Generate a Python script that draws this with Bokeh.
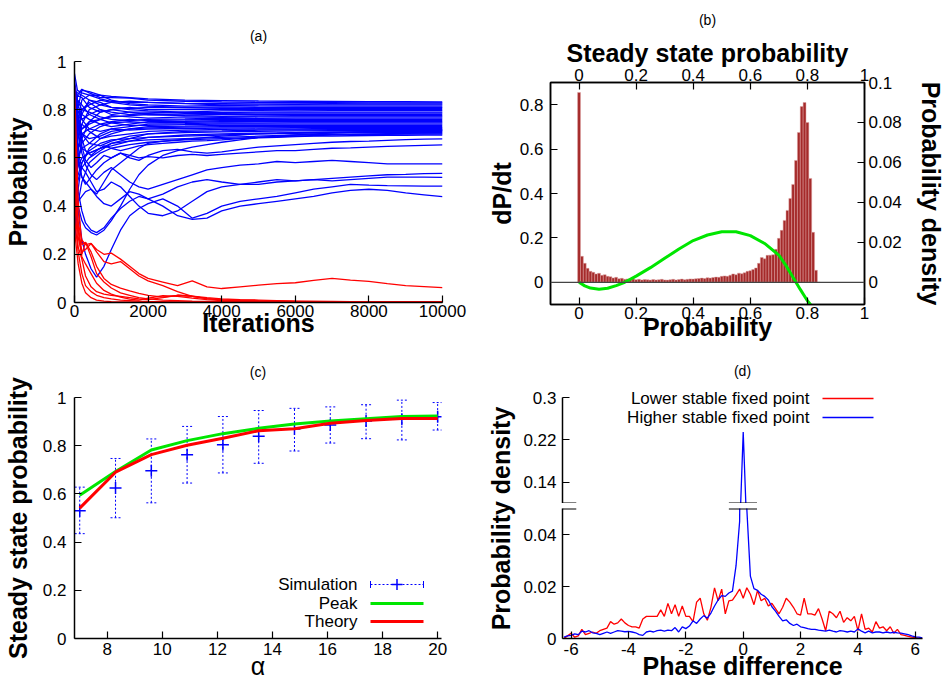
from bokeh.plotting import figure
from bokeh.layouts import row, column
from bokeh.models import (Range1d, LinearAxis, FixedTicker, Span, Label,
                          Whisker, TeeHead, Arrow, ColumnDataSource, CustomJSTickFormatter)
from bokeh.embed import file_html
from bokeh.resources import INLINE

FONT = "Liberation Sans"
BLUE = "#0000ff"
RED = "#ff0000"
GREEN = "#00e600"

# ---------------- (a) trajectories ----------------
iter_fine = [0, 100, 200, 300, 450, 600, 800, 1000, 1250, 1500, 1750, 2000, 2400, 2800, 3200,
             3600, 4000, 4500, 5000, 5500, 6000, 6500, 7000, 7500, 8000, 8500, 9000, 9500, 10000]
iter_coarse = [0, 80, 200, 400, 700, 1000, 1500, 2000, 3000, 4000, 5000, 6000, 7000, 8000, 9000, 10000]

blue_low_traj = [
    [0.62, 0.46, 0.38, 0.33, 0.30, 0.29, 0.31, 0.35, 0.39, 0.42, 0.44, 0.43, 0.40, 0.36, 0.345, 0.35, 0.38, 0.40, 0.41, 0.42, 0.43, 0.44, 0.455, 0.465, 0.47, 0.465, 0.455, 0.447, 0.439],
    [0.58, 0.38, 0.26, 0.20, 0.14, 0.105, 0.15, 0.22, 0.30, 0.36, 0.39, 0.41, 0.43, 0.40, 0.35, 0.37, 0.40, 0.42, 0.43, 0.44, 0.455, 0.47, 0.48, 0.49, 0.487, 0.485, 0.484, 0.483, 0.483],
    [0.72, 0.58, 0.52, 0.50, 0.47, 0.44, 0.41, 0.40, 0.43, 0.46, 0.45, 0.43, 0.45, 0.48, 0.50, 0.51, 0.50, 0.49, 0.49, 0.50, 0.505, 0.51, 0.505, 0.51, 0.515, 0.52, 0.52, 0.52, 0.519],
    [0.80, 0.62, 0.56, 0.54, 0.50, 0.46, 0.47, 0.50, 0.48, 0.44, 0.40, 0.37, 0.36, 0.38, 0.42, 0.46, 0.48, 0.49, 0.50, 0.51, 0.505, 0.51, 0.515, 0.52, 0.525, 0.53, 0.532, 0.535, 0.536],
    [0.85, 0.70, 0.62, 0.57, 0.53, 0.51, 0.54, 0.56, 0.53, 0.50, 0.48, 0.47, 0.49, 0.51, 0.53, 0.55, 0.56, 0.57, 0.575, 0.585, 0.58, 0.585, 0.59, 0.585, 0.58, 0.575, 0.575, 0.575, 0.575],
    [0.88, 0.74, 0.65, 0.59, 0.56, 0.58, 0.61, 0.60, 0.62, 0.61, 0.60, 0.605, 0.60, 0.61, 0.615, 0.61, 0.615, 0.62, 0.625, 0.63, 0.63, 0.635, 0.64, 0.642, 0.645, 0.648, 0.65, 0.652, 0.654],
    [0.75, 0.60, 0.52, 0.49, 0.52, 0.55, 0.58, 0.60, 0.62, 0.60, 0.59, 0.61, 0.63, 0.635, 0.625, 0.62, 0.625, 0.635, 0.645, 0.65, 0.655, 0.66, 0.665, 0.668, 0.67, 0.673, 0.676, 0.678, 0.679],
    [0.86, 0.76, 0.68, 0.63, 0.61, 0.63, 0.65, 0.64, 0.63, 0.64, 0.65, 0.655, 0.66, 0.665, 0.67, 0.672, 0.675, 0.68, 0.683, 0.685, 0.688, 0.69, 0.69, 0.692, 0.693, 0.694, 0.694, 0.695, 0.695],
    [0.40, 0.42, 0.44, 0.46, 0.47, 0.45, 0.50, 0.55, 0.58, 0.61, 0.64, 0.66, 0.67, 0.675, 0.68, 0.685, 0.69, 0.695, 0.70, 0.702, 0.705, 0.706, 0.707, 0.708, 0.709, 0.71, 0.711, 0.712, 0.712],
    [0.52, 0.40, 0.34, 0.31, 0.29, 0.28, 0.30, 0.34, 0.40, 0.47, 0.53, 0.57, 0.61, 0.63, 0.645, 0.655, 0.665, 0.675, 0.685, 0.69, 0.695, 0.70, 0.703, 0.706, 0.708, 0.71, 0.712, 0.714, 0.716],
]

blue_band_traj = [
    [0.95, 0.88, 0.87, 0.86, 0.86, 0.855, 0.85, 0.845, 0.84, 0.838, 0.836, 0.835, 0.834, 0.833, 0.833, 0.832],
    [0.70, 0.86, 0.885, 0.87, 0.85, 0.85, 0.848, 0.84, 0.835, 0.832, 0.83, 0.829, 0.829, 0.828, 0.828, 0.828],
    [0.40, 0.75, 0.84, 0.86, 0.845, 0.835, 0.83, 0.83, 0.826, 0.825, 0.824, 0.824, 0.825, 0.824, 0.824, 0.824],
    [0.88, 0.87, 0.86, 0.84, 0.82, 0.83, 0.835, 0.83, 0.825, 0.82, 0.82, 0.821, 0.82, 0.82, 0.82, 0.82],
    [0.60, 0.80, 0.88, 0.875, 0.86, 0.84, 0.825, 0.82, 0.815, 0.818, 0.816, 0.815, 0.815, 0.815, 0.815, 0.815],
    [0.92, 0.84, 0.80, 0.82, 0.84, 0.83, 0.82, 0.815, 0.81, 0.812, 0.81, 0.81, 0.81, 0.81, 0.81, 0.81],
    [0.35, 0.62, 0.74, 0.80, 0.82, 0.81, 0.805, 0.81, 0.808, 0.806, 0.806, 0.805, 0.806, 0.806, 0.806, 0.806],
    [0.82, 0.86, 0.85, 0.81, 0.79, 0.80, 0.81, 0.80, 0.80, 0.80, 0.80, 0.80, 0.80, 0.80, 0.80, 0.80],
    [0.55, 0.70, 0.78, 0.84, 0.83, 0.81, 0.80, 0.795, 0.79, 0.795, 0.796, 0.795, 0.796, 0.796, 0.796, 0.796],
    [0.90, 0.80, 0.76, 0.78, 0.80, 0.79, 0.78, 0.785, 0.79, 0.788, 0.79, 0.79, 0.79, 0.79, 0.79, 0.79],
    [0.45, 0.66, 0.80, 0.83, 0.80, 0.78, 0.79, 0.79, 0.785, 0.785, 0.786, 0.786, 0.786, 0.786, 0.786, 0.786],
    [0.75, 0.84, 0.82, 0.78, 0.76, 0.77, 0.775, 0.78, 0.778, 0.78, 0.78, 0.78, 0.78, 0.78, 0.78, 0.78],
    [0.30, 0.55, 0.68, 0.75, 0.79, 0.80, 0.79, 0.78, 0.775, 0.772, 0.774, 0.775, 0.775, 0.775, 0.775, 0.775],
    [0.85, 0.78, 0.72, 0.74, 0.76, 0.775, 0.77, 0.765, 0.77, 0.768, 0.77, 0.77, 0.77, 0.77, 0.77, 0.77],
    [0.65, 0.74, 0.80, 0.79, 0.77, 0.76, 0.755, 0.76, 0.762, 0.765, 0.764, 0.765, 0.765, 0.765, 0.765, 0.765],
    [0.50, 0.62, 0.70, 0.72, 0.74, 0.75, 0.76, 0.755, 0.758, 0.76, 0.76, 0.76, 0.76, 0.76, 0.76, 0.76],
    [0.88, 0.82, 0.78, 0.76, 0.74, 0.73, 0.74, 0.75, 0.752, 0.755, 0.755, 0.755, 0.755, 0.755, 0.755, 0.755],
    [0.38, 0.58, 0.66, 0.70, 0.73, 0.745, 0.75, 0.745, 0.748, 0.75, 0.75, 0.75, 0.75, 0.75, 0.75, 0.75],
    [0.72, 0.80, 0.76, 0.72, 0.71, 0.72, 0.73, 0.74, 0.742, 0.745, 0.744, 0.745, 0.745, 0.745, 0.745, 0.745],
    [0.58, 0.68, 0.72, 0.75, 0.76, 0.745, 0.735, 0.735, 0.738, 0.74, 0.74, 0.74, 0.74, 0.74, 0.74, 0.74],
    [0.28, 0.45, 0.58, 0.64, 0.68, 0.70, 0.72, 0.73, 0.732, 0.735, 0.735, 0.735, 0.735, 0.735, 0.735, 0.735],
    [0.80, 0.76, 0.70, 0.68, 0.69, 0.71, 0.72, 0.725, 0.728, 0.73, 0.73, 0.73, 0.73, 0.73, 0.73, 0.73],
    [0.48, 0.60, 0.64, 0.66, 0.70, 0.72, 0.715, 0.72, 0.722, 0.724, 0.725, 0.726, 0.726, 0.726, 0.726, 0.726],
    [0.66, 0.72, 0.74, 0.71, 0.68, 0.69, 0.70, 0.71, 0.715, 0.718, 0.72, 0.72, 0.722, 0.722, 0.722, 0.722],
    [0.33, 0.50, 0.56, 0.60, 0.63, 0.66, 0.68, 0.70, 0.71, 0.712, 0.715, 0.716, 0.717, 0.718, 0.718, 0.718],
    [0.90, 0.78, 0.70, 0.66, 0.65, 0.67, 0.69, 0.70, 0.705, 0.708, 0.71, 0.712, 0.713, 0.714, 0.714, 0.714],
    [0.52, 0.56, 0.60, 0.62, 0.64, 0.65, 0.67, 0.685, 0.695, 0.70, 0.703, 0.705, 0.707, 0.708, 0.709, 0.71],
    [0.42, 0.52, 0.58, 0.63, 0.66, 0.675, 0.68, 0.685, 0.69, 0.695, 0.70, 0.702, 0.704, 0.705, 0.706, 0.706],
    [0.62, 0.66, 0.64, 0.62, 0.64, 0.66, 0.67, 0.675, 0.68, 0.685, 0.69, 0.695, 0.698, 0.70, 0.702, 0.703],
    [0.25, 0.40, 0.50, 0.58, 0.62, 0.64, 0.655, 0.665, 0.675, 0.68, 0.685, 0.69, 0.695, 0.697, 0.699, 0.70],
]

red_traj = [
    [0.45, 0.33, 0.26, 0.24, 0.245, 0.22, 0.20, 0.205, 0.18, 0.15, 0.12, 0.10, 0.085, 0.07, 0.09, 0.065, 0.058, 0.065, 0.072, 0.078, 0.082, 0.092, 0.1, 0.093, 0.088, 0.078, 0.07, 0.066, 0.062],
    [0.60, 0.32, 0.21, 0.22, 0.245, 0.21, 0.17, 0.16, 0.17, 0.14, 0.11, 0.09, 0.07, 0.045, 0.025, 0.016, 0.012, 0.01, 0.008, 0.007, 0.006, 0.005, 0.005, 0.004, 0.004, 0.003, 0.003, 0.003, 0.003],
    [0.90, 0.42, 0.24, 0.25, 0.21, 0.15, 0.10, 0.075, 0.06, 0.048, 0.038, 0.03, 0.022, 0.03, 0.026, 0.016, 0.01, 0.008, 0.006, 0.005, 0.004, 0.003, 0.003, 0.002, 0.002, 0.002, 0.002, 0.002, 0.002],
    [0.50, 0.27, 0.20, 0.25, 0.19, 0.12, 0.085, 0.06, 0.04, 0.03, 0.02, 0.015, 0.01, 0.008, 0.006, 0.005, 0.004, 0.003, 0.003, 0.002, 0.002, 0.002, 0.001, 0.001, 0.001, 0.001, 0.001, 0.001, 0.001],
    [0.35, 0.21, 0.12, 0.07, 0.045, 0.03, 0.02, 0.015, 0.01, 0.008, 0.006, 0.005, 0.004, 0.003, 0.003, 0.002, 0.002, 0.002, 0.001, 0.001, 0.001, 0.001, 0.001, 0.001, 0.001, 0.001, 0.001, 0.001, 0.001],
    [0.42, 0.23, 0.18, 0.11, 0.065, 0.045, 0.035, 0.03, 0.025, 0.02, 0.015, 0.012, 0.02, 0.03, 0.026, 0.02, 0.015, 0.012, 0.01, 0.008, 0.006, 0.005, 0.004, 0.004, 0.003, 0.003, 0.003, 0.003, 0.003],
    [0.30, 0.16, 0.08, 0.04, 0.02, 0.01, 0.006, 0.004, 0.003, 0.002, 0.002, 0.001, 0.001, 0.001, 0.001, 0.001, 0.001, 0.001, 0.001, 0.001, 0.001, 0.001, 0.001, 0.001, 0.001, 0.001, 0.001, 0.001, 0.001],
    [0.75, 0.30, 0.19, 0.16, 0.12, 0.08, 0.05, 0.035, 0.022, 0.014, 0.01, 0.018, 0.028, 0.025, 0.018, 0.012, 0.008, 0.006, 0.005, 0.004, 0.003, 0.003, 0.002, 0.002, 0.002, 0.002, 0.002, 0.002, 0.002],
]

a_xticks = [0, 2000, 4000, 6000, 8000, 10000]
unit_ticks = [0, 0.2, 0.4, 0.6, 0.8, 1]

# ---------------- (b) histogram and dP/dt ----------------
hist_x = [0.00, 0.01, 0.02, 0.03, 0.04, 0.05, 0.06, 0.07, 0.08, 0.09,
          0.10, 0.11, 0.12, 0.13, 0.14, 0.15, 0.16, 0.17, 0.18, 0.19,
          0.20, 0.21, 0.22, 0.23, 0.24, 0.25, 0.26, 0.27, 0.28, 0.29,
          0.30, 0.31, 0.32, 0.33, 0.34, 0.35, 0.36, 0.37, 0.38, 0.39,
          0.40, 0.41, 0.42, 0.43, 0.44, 0.45, 0.46, 0.47, 0.48, 0.49,
          0.50, 0.51, 0.52, 0.53, 0.54, 0.55, 0.56, 0.57, 0.58, 0.59,
          0.60, 0.61, 0.62, 0.63, 0.64, 0.65, 0.66, 0.67, 0.68, 0.69,
          0.70, 0.71, 0.72, 0.73, 0.74, 0.75, 0.76, 0.77, 0.78, 0.79,
          0.80, 0.81, 0.82, 0.83, 0.84]
hist_density = [0.095, 0.013, 0.0095, 0.007, 0.0055, 0.005, 0.0042, 0.0045, 0.0035, 0.0038,
                0.003, 0.0028, 0.0022, 0.0025, 0.0018, 0.002, 0.0015, 0.0017, 0.0014, 0.0016,
                0.0013, 0.0015, 0.0012, 0.0014, 0.0013, 0.0011, 0.0014, 0.0012, 0.0013, 0.0015,
                0.0012, 0.0011, 0.0013, 0.0015, 0.0012, 0.0014, 0.0016, 0.0013, 0.0015, 0.0017,
                0.0016, 0.0018, 0.0019, 0.0021, 0.0019, 0.0023, 0.0021, 0.0024, 0.0026, 0.0025,
                0.003, 0.0032, 0.003, 0.0036, 0.0042, 0.0038, 0.0046, 0.0043, 0.0048, 0.0055,
                0.0058, 0.0064, 0.0072, 0.0095, 0.0124, 0.0118, 0.0135, 0.0136, 0.0138, 0.0165,
                0.022, 0.026, 0.031, 0.036, 0.042, 0.049, 0.061, 0.075, 0.088, 0.09,
                0.08, 0.052, 0.025, 0.006, 0.0]
dpdt_x = [0, 0.02, 0.04, 0.07, 0.10, 0.13, 0.16, 0.20, 0.25, 0.30, 0.35, 0.40, 0.45, 0.50,
          0.55, 0.60, 0.65, 0.70, 0.725, 0.75, 0.775, 0.80, 0.82]
dpdt_y = [0, -0.016, -0.026, -0.031, -0.027, -0.015, 0.0, 0.028, 0.066, 0.108, 0.15, 0.188,
          0.213, 0.228, 0.228, 0.21, 0.175, 0.122, 0.075, 0.022, -0.032, -0.083, -0.115]
dpdt_ticks = [0, 0.2, 0.4, 0.6, 0.8]
dens_ticks = [0, 0.02, 0.04, 0.06, 0.08, 0.1]

# ---------------- (c) steady state vs alpha ----------------
alpha = [7.0, 8.3, 9.6, 10.9, 12.2, 13.5, 14.8, 16.1, 17.4, 18.7, 20.0]
sim_mean = [0.530, 0.624, 0.696, 0.762, 0.804, 0.839, 0.869, 0.886, 0.902, 0.910, 0.920]
sim_low = [0.435, 0.501, 0.563, 0.645, 0.687, 0.727, 0.778, 0.811, 0.829, 0.824, 0.865]
sim_high = [0.628, 0.747, 0.828, 0.880, 0.921, 0.946, 0.955, 0.961, 0.970, 0.989, 0.979]
peak = [0.594, 0.693, 0.782, 0.821, 0.850, 0.872, 0.890, 0.902, 0.912, 0.921, 0.923]
theory = [0.541, 0.690, 0.763, 0.802, 0.831, 0.862, 0.870, 0.893, 0.905, 0.913, 0.913]
alpha_ticks = [8, 10, 12, 14, 16, 18, 20]
legend_c = ["Simulation", "Peak", "Theory"]

# ---------------- (d) phase difference densities ----------------
phase = [-6.25, -6.125, -6.0, -5.875, -5.75, -5.625, -5.5, -5.375, -5.25, -5.125,
         -5.0, -4.875, -4.75, -4.625, -4.5, -4.375, -4.25, -4.125, -4.0, -3.875,
         -3.75, -3.625, -3.5, -3.375, -3.25, -3.125, -3.0, -2.875, -2.75, -2.625,
         -2.5, -2.375, -2.25, -2.125, -2.0, -1.875, -1.75, -1.625, -1.5, -1.375,
         -1.25, -1.125, -1.0, -0.875, -0.75, -0.625, -0.5, -0.375, -0.25, -0.125,
         0.0, 0.125, 0.25, 0.375, 0.5, 0.625, 0.75, 0.875, 1.0, 1.125,
         1.25, 1.375, 1.5, 1.625, 1.75, 1.875, 2.0, 2.125, 2.25, 2.375,
         2.5, 2.625, 2.75, 2.875, 3.0, 3.125, 3.25, 3.375, 3.5, 3.625,
         3.75, 3.875, 4.0, 4.125, 4.25, 4.375, 4.5, 4.625, 4.75, 4.875,
         5.0, 5.125, 5.25, 5.375, 5.5, 5.625, 5.75, 5.875, 6.0, 6.125, 6.25]
lower_fp = [0.0, 0.001, 0.002, 0.0005, 0.001, 0.0035, 0.0015, 0.002, 0.0025, 0.002,
            0.003, 0.0035, 0.004, 0.0065, 0.0055, 0.006, 0.0075, 0.006, 0.005, 0.0045,
            0.0045, 0.004, 0.0075, 0.0085, 0.0085, 0.0085, 0.0085, 0.011, 0.0085, 0.0135,
            0.0095, 0.013, 0.0085, 0.0125, 0.0085, 0.0085, 0.0065, 0.014, 0.0155, 0.0095,
            0.007, 0.012, 0.0195, 0.0145, 0.019, 0.0095, 0.0145, 0.0148, 0.0168, 0.019,
            0.0155, 0.0195, 0.017, 0.013, 0.0185, 0.0145, 0.0155, 0.0125, 0.0135, 0.0115,
            0.0095, 0.012, 0.0155, 0.014, 0.012, 0.0095, 0.009, 0.0155, 0.0095, 0.0095,
            0.009, 0.0115, 0.0075, 0.003, 0.0105, 0.0095, 0.008, 0.0105, 0.0062, 0.008,
            0.0068, 0.0085, 0.003, 0.0095, 0.0035, 0.004, 0.0025, 0.0065, 0.004, 0.0045,
            0.003, 0.0045, 0.002, 0.0035, 0.0015, 0.0012, 0.0008, 0.0005, 0.0003, 0.0, 0.0]
higher_fp = [0.0005, 0.001, 0.0012, 0.0018, 0.0015, 0.0028, 0.0025, 0.003, 0.0022, 0.002,
             0.0015, 0.002, 0.0025, 0.002, 0.0025, 0.003, 0.0028, 0.0026, 0.0027, 0.0025,
             0.0022, 0.0015, 0.0012, 0.0025, 0.0028, 0.0025, 0.003, 0.0032, 0.0028, 0.0032,
             0.003, 0.0042, 0.0025, 0.0045, 0.0038, 0.0048, 0.0068, 0.0058, 0.0075, 0.0088,
             0.0078, 0.0098, 0.0125, 0.0148, 0.0165, 0.0162, 0.0175, 0.0182, 0.028, 0.045,
             0.235, 0.05, 0.024, 0.0192, 0.0185, 0.017, 0.0162, 0.0148, 0.0122, 0.0105,
             0.0085, 0.0068, 0.0072, 0.0058, 0.005, 0.0055, 0.0045, 0.0042, 0.0038, 0.0035,
             0.0035, 0.0032, 0.003, 0.0028, 0.0032, 0.0028, 0.0025, 0.003, 0.0028, 0.0025,
             0.0028, 0.0025, 0.0037, 0.0028, 0.0022, 0.0028, 0.0022, 0.0025, 0.0025, 0.0022,
             0.0025, 0.0022, 0.0024, 0.0022, 0.0021, 0.0018, 0.0015, 0.001, 0.0006, 0.0005, 0.0002]
phase_ticks = [-6, -4, -2, 0, 2, 4, 6]
dens_low_ticks = [0, 0.02, 0.04]
dens_high_ticks = [0.14, 0.22, 0.3]
legend_d = ["Lower stable fixed point", "Higher stable fixed point"]


# ---------------- helpers ----------------
def style_axis(ax, ticks, tick_standoff, label_standoff, label=None, bold=True, label_size="25px"):
    ax.ticker = FixedTicker(ticks=ticks)
    ax.formatter = CustomJSTickFormatter(code="return String(tick);")
    ax.major_tick_in = 7
    ax.major_tick_out = 0
    ax.minor_tick_line_color = None
    ax.major_tick_line_color = "black"
    ax.major_tick_line_width = 1.2
    ax.axis_line_color = "black"
    ax.axis_line_width = 1.5
    ax.major_label_text_font = FONT
    ax.major_label_text_font_size = "17px"
    ax.major_label_text_color = "black"
    ax.major_label_standoff = tick_standoff
    if label is not None:
        ax.axis_label = label
    ax.axis_label_text_font = FONT
    ax.axis_label_text_font_size = label_size
    ax.axis_label_text_font_style = "bold" if bold else "normal"
    ax.axis_label_text_color = "black"
    ax.axis_label_standoff = label_standoff


def make_fig(width, height, x_range, y_range, borders, title=None, **kw):
    p = figure(width=width, height=height, x_range=x_range, y_range=y_range,
               output_backend="svg", toolbar_location=None, title=title,
               min_border_left=borders[0], min_border_right=borders[1],
               min_border_top=borders[2], min_border_bottom=borders[3],
               frame_align=False, **kw)
    p.xgrid.visible = False
    p.ygrid.visible = False
    p.outline_line_color = None
    p.background_fill_color = "white"
    p.border_fill_color = "white"
    if title is not None:
        p.title.align = "center"
        p.title.text_font = FONT
        p.title.text_font_size = "14px"
        p.title.text_font_style = "normal"
        p.title.text_color = "black"
    return p


def legend_text(p, text, x, y):
    p.add_layout(Label(x=x, y=y, x_units="screen", y_units="screen", text=text,
                       text_align="right", text_baseline="middle", text_font=FONT,
                       text_font_size="17px", text_color="black"))


def legend_stroke(p, x0, x1, y, color, width, dash="solid", heads=False):
    kw = {}
    if heads:
        kw["start"] = TeeHead(size=7, line_color=color, line_width=1)
        kw["end"] = TeeHead(size=7, line_color=color, line_width=1)
    else:
        kw["end"] = None
    p.add_layout(Arrow(x_start=x0, y_start=y, x_end=x1, y_end=y, start_units="screen",
                       end_units="screen", line_color=color, line_width=width,
                       line_dash=dash, **kw))


# ---------------- (a) ----------------
pa = make_fig(480, 344, Range1d(0, 10000), Range1d(0, 1), (71, 38, 61, 42), title="(a)")
pa.title.standoff = 36
xs_blue = [iter_fine[:len(v)] for v in blue_low_traj] + [iter_coarse[:len(v)] for v in blue_band_traj]
ys_blue = blue_low_traj + blue_band_traj
pa.multi_line(xs=xs_blue, ys=ys_blue, line_color=BLUE, line_width=1.3)
pa.multi_line(xs=[iter_fine[:len(v)] for v in red_traj], ys=red_traj, line_color=RED, line_width=1.3)
style_axis(pa.below[0], a_xticks, 2, -11, "Iterations")
style_axis(pa.left[0], unit_ticks, 8, 8, "Probability")

# ---------------- (b) ----------------
pb = make_fig(469, 344, Range1d(-0.1, 1.0), Range1d(-0.1, 0.9), (70, 85, 82, 40), title="(b)")
pb.title.standoff = 16
pb.outline_line_color = "black"
pb.outline_line_width = 1.5
pb.extra_y_ranges = {"dens": Range1d(-0.0111, 0.1)}
pb.vbar(x=hist_x, top=hist_density, width=0.01, bottom=0, y_range_name="dens",
        fill_color="#a52a2a", line_color="#dca0a0", line_width=0.5)
pb.add_layout(Span(location=0, dimension="width", line_color="#444444", line_width=1.2))
pb.line(dpdt_x, dpdt_y, line_color=GREEN, line_width=3)
style_axis(pb.below[0], unit_ticks, 2, -9, "Probability")
style_axis(pb.left[0], dpdt_ticks, 7, 1, "dP/dt")
ax_right = LinearAxis(y_range_name="dens")
style_axis(ax_right, dens_ticks, 4, 12, "Probability density")
pb.add_layout(ax_right, "right")
ax_top = LinearAxis()
style_axis(ax_top, unit_ticks, 2, -1, "Steady state probability")
pb.add_layout(ax_top, "above")

# ---------------- (c) ----------------
pc = make_fig(480, 338, Range1d(6.81, 20.14), Range1d(0, 1), (71, 39, 53, 43), title="(c)")
pc.title.standoff = 35
src = ColumnDataSource(dict(x=alpha, mean=sim_mean, lo=sim_low, hi=sim_high))
pc.segment(x0="x", y0="lo", x1="x", y1="hi", source=src, line_color=BLUE,
           line_dash="2 2", line_width=1)
pc.add_layout(Whisker(source=src, base="x", upper="hi", lower="lo", line_alpha=0,
                      upper_head=TeeHead(size=10, line_color=BLUE, line_width=1, line_dash="2 2"),
                      lower_head=TeeHead(size=10, line_color=BLUE, line_width=1, line_dash="2 2")))
pc.scatter("x", "mean", source=src, marker="cross", size=12, line_color=BLUE, line_width=1.5)
pc.line(alpha, peak, line_color=GREEN, line_width=3)
pc.line(alpha, theory, line_color=RED, line_width=3)
style_axis(pc.below[0], alpha_ticks, 4, -6, "α", bold=False)
style_axis(pc.left[0], unit_ticks, 8, 8, "Steady state probability")

# legend of (c): text on the left, sample on the right (screen units from frame bottom-left)
legend_text(pc, legend_c[0], 283, 54)
legend_stroke(pc, 296, 349, 54, BLUE, 1, dash="2 2", heads=True)
legend_stroke(pc, 317, 328, 54, BLUE, 1.5)
pc.add_layout(Arrow(x_start=322.5, y_start=48.5, x_end=322.5, y_end=59.5, start_units="screen",
                    end_units="screen", end=None, line_color=BLUE, line_width=1.5))
legend_text(pc, legend_c[1], 283, 35)
legend_stroke(pc, 296, 349, 35, GREEN, 3)
legend_text(pc, legend_c[2], 283, 17)
legend_stroke(pc, 296, 349, 17, RED, 3)

# ---------------- (d) ----------------
pdl = make_fig(36, 338, Range1d(0, 1), Range1d(0, 1), (34, 0, 53, 43), x_axis_location=None)
ylab = pdl.left[0]
style_axis(ylab, [], 0, 0, "Probability density")
ylab.axis_line_color = None
ylab.major_tick_line_color = None

xr = Range1d(-6.3, 6.25)
pdu = make_fig(433, 159, xr, Range1d(0.1, 0.321), (46, 27, 42, 0), title="(d)", x_axis_location=None)
pdu.title.standoff = 15
pdlo = make_fig(433, 179, xr, Range1d(0, 0.05), (46, 27, 5, 43))

pdu.line(phase, lower_fp, line_color=RED, line_width=1.3)
pdu.line(phase, higher_fp, line_color=BLUE, line_width=1.3)
pdlo.line(phase, lower_fp, line_color=RED, line_width=1.3)
pdlo.line(phase, higher_fp, line_color=BLUE, line_width=1.3)
style_axis(pdu.left[0], dens_high_ticks, 6, 0)
pdu.left[0].bounds = (0.1, 0.3)
style_axis(pdlo.left[0], dens_low_ticks, 6, 0)
style_axis(pdlo.below[0], phase_ticks, 4, -6, "Phase difference")

# axis-break marks
for xs, xe in [(-6.83, -5.82), (-0.5, 0.48)]:
    pdu.add_layout(Arrow(end=None, x_start=xs, y_start=0.1, x_end=xe, y_end=0.1,
                         line_color="black", line_width=2))
    pdlo.add_layout(Arrow(end=None, x_start=xs, y_start=0.05, x_end=xe, y_end=0.05,
                          line_color="black", line_width=2))

# legend of (d)
legend_text(pdu, legend_d[0], 247, 105)
legend_stroke(pdu, 260, 311, 105, RED, 1.5)
legend_text(pdu, legend_d[1], 247, 86)
legend_stroke(pdu, 260, 311, 86, BLUE, 1.5)

layout = column(row(pa, pb), row(pc, pdl, column(pdu, pdlo)))
open("out.html", "w").write(file_html(layout, INLINE, title="Steady state probability"))
